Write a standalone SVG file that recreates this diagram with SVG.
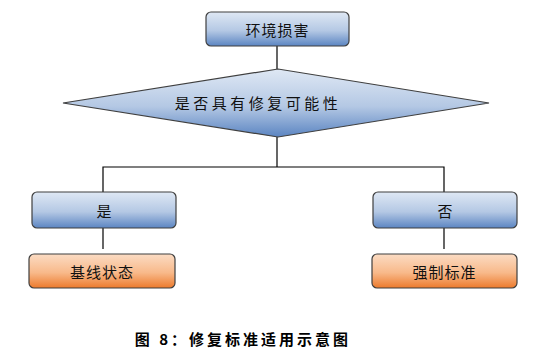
<svg xmlns="http://www.w3.org/2000/svg" width="533" height="360" viewBox="0 0 533 360">
<defs>
<linearGradient id="blue" x1="0" y1="0" x2="0" y2="1">
<stop offset="0" stop-color="#dfe8f4"/>
<stop offset="0.55" stop-color="#b4c8e4"/>
<stop offset="1" stop-color="#5b85c2"/>
</linearGradient>
<linearGradient id="orange" x1="0" y1="0" x2="0" y2="1">
<stop offset="0" stop-color="#fbdcc4"/>
<stop offset="0.55" stop-color="#f8b98a"/>
<stop offset="1" stop-color="#ec7a2c"/>
</linearGradient>
<style>
.bb{fill:url(#blue);stroke:#3f3f3f;stroke-width:1.2}
.ob{fill:url(#orange);stroke:#3f3f3f;stroke-width:1.2}
.t{font-family:"Noto Sans CJK SC",sans-serif;font-size:15px;fill:#111;text-anchor:middle;dominant-baseline:central}
.c{stroke:#000;stroke-width:1.2;fill:none}
</style>
</defs>
<rect width="533" height="360" fill="#fff"/>
<g id="connectors">
<line class="c" x1="277" y1="46" x2="277" y2="69"/>
<line class="c" x1="277" y1="137" x2="277" y2="167"/>
<polyline class="c" points="103,192 103,167 444,167 444,192"/>
<line class="c" x1="103" y1="228" x2="103" y2="249"/>
<line class="c" x1="444" y1="228" x2="444" y2="249"/>
</g>
<g id="n-damage">
<rect class="bb" x="206" y="12" width="143" height="34" rx="5"/>
<text class="t" x="277.5" y="29" letter-spacing="1">环境损害</text>
</g>
<g id="n-decision">
<polygon class="bb" points="63,103 278,69 489,103 278,137"/>
<text class="t" x="258" y="102" letter-spacing="3.5">是否具有修复可能性</text>
</g>
<g id="n-yes">
<rect class="bb" x="32" y="192" width="144" height="36" rx="5"/>
<text class="t" x="104" y="210">是</text>
</g>
<g id="n-no">
<rect class="bb" x="373" y="192" width="144" height="36" rx="5"/>
<text class="t" x="445" y="210">否</text>
</g>
<g id="n-baseline">
<rect class="ob" x="29" y="254" width="146" height="34" rx="5"/>
<text class="t" x="102" y="271" letter-spacing="1">基线状态</text>
</g>
<g id="n-standard">
<rect class="ob" x="372" y="254" width="145" height="34" rx="5"/>
<text class="t" x="444.5" y="271" letter-spacing="1">强制标准</text>
</g>
<text x="243" y="338" font-family="'Noto Sans CJK SC',sans-serif" font-size="15" font-weight="bold" text-anchor="middle" dominant-baseline="central" letter-spacing="3" fill="#000">图 8：修复标准适用示意图</text>
</svg>
